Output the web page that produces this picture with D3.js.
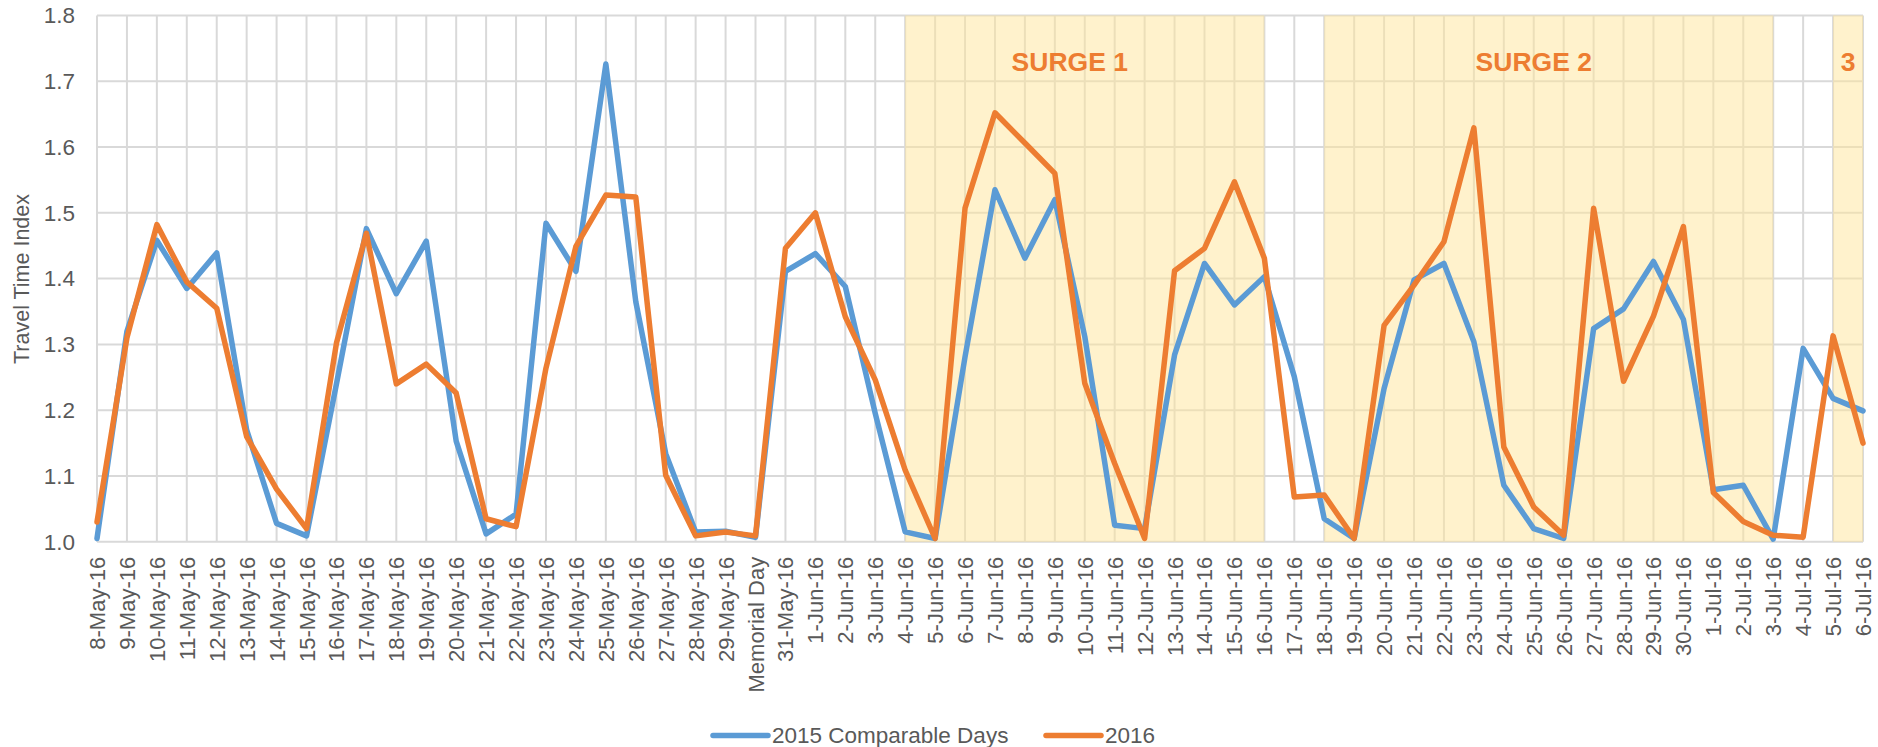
<!DOCTYPE html>
<html>
<head>
<meta charset="utf-8">
<script src="https://cdn.jsdelivr.net/npm/d3@7"></script>
<style>
  body { margin: 0; background: #fff; }
  text { font-family: "Liberation Sans", Arial, sans-serif; }
</style>
</head>
<body>
<div id="viz"></div>
<script>
// travel time index, 2015 comparable days vs 2016, with surge periods shaded

const categories = [
  "8-May-16", "9-May-16", "10-May-16", "11-May-16", "12-May-16", "13-May-16", "14-May-16", "15-May-16",
  "16-May-16", "17-May-16", "18-May-16", "19-May-16", "20-May-16", "21-May-16", "22-May-16", "23-May-16",
  "24-May-16", "25-May-16", "26-May-16", "27-May-16", "28-May-16", "29-May-16", "Memorial Day", "31-May-16",
  "1-Jun-16", "2-Jun-16", "3-Jun-16", "4-Jun-16", "5-Jun-16", "6-Jun-16", "7-Jun-16", "8-Jun-16",
  "9-Jun-16", "10-Jun-16", "11-Jun-16", "12-Jun-16", "13-Jun-16", "14-Jun-16", "15-Jun-16", "16-Jun-16",
  "17-Jun-16", "18-Jun-16", "19-Jun-16", "20-Jun-16", "21-Jun-16", "22-Jun-16", "23-Jun-16", "24-Jun-16",
  "25-Jun-16", "26-Jun-16", "27-Jun-16", "28-Jun-16", "29-Jun-16", "30-Jun-16", "1-Jul-16", "2-Jul-16",
  "3-Jul-16", "4-Jul-16", "5-Jul-16", "6-Jul-16"
];

const days2015 = [
  1.005, 1.32, 1.458, 1.385, 1.439, 1.17, 1.028, 1.009,
  1.24, 1.476, 1.377, 1.457, 1.153, 1.012, 1.042, 1.484,
  1.411, 1.726, 1.365, 1.134, 1.015, 1.016, 1.007, 1.411,
  1.438, 1.388, 1.195, 1.015, 1.005, 1.281, 1.535, 1.431,
  1.520, 1.312, 1.025, 1.02, 1.284, 1.423, 1.360, 1.403,
  1.251, 1.035, 1.005, 1.233, 1.398, 1.423, 1.304, 1.086,
  1.02, 1.005, 1.324, 1.354, 1.426, 1.338, 1.079, 1.086,
  1.004, 1.294, 1.218, 1.199
];

const days2016 = [
  1.03, 1.31, 1.482, 1.395, 1.355, 1.16, 1.08, 1.02,
  1.302, 1.469, 1.24, 1.27, 1.226, 1.035, 1.023, 1.264,
  1.449, 1.527, 1.524, 1.101, 1.009, 1.015, 1.009, 1.446,
  1.500, 1.342, 1.246, 1.109, 1.005, 1.507, 1.652, 1.606,
  1.560, 1.241, 1.119, 1.005, 1.412, 1.446, 1.547, 1.431,
  1.068, 1.071, 1.005, 1.329, 1.39, 1.456, 1.629, 1.144,
  1.053, 1.01, 1.507, 1.244, 1.343, 1.479, 1.075, 1.031,
  1.010, 1.007, 1.313, 1.150
];

const yTicks = [1.0, 1.1, 1.2, 1.3, 1.4, 1.5, 1.6, 1.7, 1.8];

// shaded periods; labelAt = category position of the label centre
const surges = [
  { label: "SURGE 1", from: "4-Jun-16", to: "16-Jun-16", labelAt: 32.5 },
  { label: "SURGE 2", from: "18-Jun-16", to: "3-Jul-16", labelAt: 48 },
  { label: "3", from: "5-Jul-16", to: "6-Jul-16", labelAt: 58.5 }
];

const seriesNames = ["2015 Comparable Days", "2016"];
const colors = ["#5B9BD5", "#ED7D31"];

const dimensions = {
  width: 1878,
  height: 747,
  margins: { top: 15.4, left: 97, right: 15, bottom: 205.2 }
};
dimensions.boundedWidth = dimensions.width - dimensions.margins.left - dimensions.margins.right;
dimensions.boundedHeight = dimensions.height - dimensions.margins.top - dimensions.margins.bottom;

const svg = d3.select('#viz').append('svg')
  .attr('width', dimensions.width)
  .attr('height', dimensions.height);

const bounds = svg.append('g')
  .attr('transform', `translate(${dimensions.margins.left}, ${dimensions.margins.top})`);

// scales
const xScale = d3.scalePoint()
  .domain(categories)
  .range([0, 1766]);

const yScale = d3.scaleLinear()
  .domain([1.0, 1.8])
  .range([dimensions.boundedHeight, 0]);

const step = xScale.step();

// gridlines
bounds.append('g')
  .selectAll('line')
  .data(yTicks)
  .join('line')
  .attr('x1', 0)
  .attr('x2', xScale(categories[categories.length - 1]))
  .attr('y1', d => yScale(d))
  .attr('y2', d => yScale(d))
  .attr('stroke', '#d9d9d9')
  .attr('stroke-width', 2);

bounds.append('g')
  .selectAll('line')
  .data(categories)
  .join('line')
  .attr('x1', d => xScale(d))
  .attr('x2', d => xScale(d))
  .attr('y1', 0)
  .attr('y2', dimensions.boundedHeight)
  .attr('stroke', '#d9d9d9')
  .attr('stroke-width', 2);

// surge shading
bounds.append('g')
  .selectAll('rect')
  .data(surges)
  .join('rect')
  .attr('x', d => xScale(d.from))
  .attr('width', d => xScale(d.to) - xScale(d.from))
  .attr('y', 0)
  .attr('height', dimensions.boundedHeight)
  .attr('fill', '#FFE599')
  .attr('fill-opacity', 0.5);

bounds.append('g')
  .selectAll('text')
  .data(surges)
  .join('text')
  .attr('x', d => d.labelAt * step)
  .attr('y', 55.3)
  .attr('text-anchor', 'middle')
  .attr('font-size', 26.5)
  .attr('font-weight', 'bold')
  .attr('fill', '#ED7D31')
  .text(d => d.label);

// axis labels
bounds.append('g')
  .selectAll('text')
  .data(yTicks)
  .join('text')
  .attr('x', -22)
  .attr('y', d => yScale(d))
  .attr('dy', '0.35em')
  .attr('text-anchor', 'end')
  .attr('font-size', 22.5)
  .attr('fill', '#595959')
  .text(d => d.toFixed(1));

bounds.append('g')
  .selectAll('text')
  .data(categories)
  .join('text')
  .attr('transform', d => `translate(${xScale(d) + 8}, ${dimensions.boundedHeight + 15}) rotate(-90)`)
  .attr('text-anchor', 'end')
  .attr('font-size', 22)
  .attr('fill', '#595959')
  .text(d => d);

svg.append('text')
  .attr('transform', 'translate(29, 279) rotate(-90)')
  .attr('text-anchor', 'middle')
  .attr('font-size', 21.5)
  .attr('fill', '#595959')
  .text('Travel Time Index');

// lines
const line = d3.line()
  .x((d, i) => xScale(categories[i]))
  .y(d => yScale(d));

[days2015, days2016].forEach((series, k) => {
  bounds.append('path')
    .datum(series)
    .attr('fill', 'none')
    .attr('stroke', colors[k])
    .attr('stroke-width', 5.5)
    .attr('stroke-linejoin', 'round')
    .attr('stroke-linecap', 'round')
    .attr('d', line);
});

// legend
const legendItems = [
  { x: 713, name: seriesNames[0], color: colors[0] },
  { x: 1046, name: seriesNames[1], color: colors[1] }
];

const legend = svg.append('g');
legend.selectAll('line')
  .data(legendItems)
  .join('line')
  .attr('x1', d => d.x)
  .attr('x2', d => d.x + 55)
  .attr('y1', 735.5)
  .attr('y2', 735.5)
  .attr('stroke', d => d.color)
  .attr('stroke-width', 5.5)
  .attr('stroke-linecap', 'round');

legend.selectAll('text')
  .data(legendItems)
  .join('text')
  .attr('x', d => d.x + 59)
  .attr('y', 743.3)
  .attr('font-size', 22.5)
  .attr('fill', '#595959')
  .text(d => d.name);
</script>
</body>
</html>
